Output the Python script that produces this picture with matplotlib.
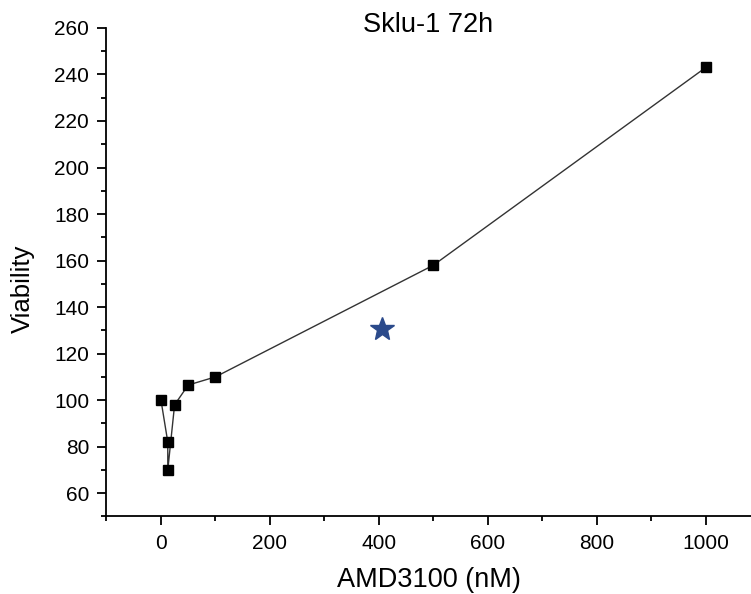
import matplotlib
matplotlib.use("Agg")
import matplotlib.pyplot as plt
from matplotlib.ticker import MultipleLocator

plt.rcParams['font.family'] = ['Liberation Sans', 'DejaVu Sans']

conc = [0, 12.5, 12.5, 25, 50, 100, 500, 1000]
viability = [100, 82, 70, 98, 106.5, 110, 158, 243]
star_x = [405]
star_y = [130.5]

fig = plt.figure(figsize=(7.51, 5.94), dpi=100)
ax = fig.add_axes([0.1418, 0.1305, 0.8582, 0.8225])

ax.plot(conc, viability, color='#333333', lw=1.0, marker='s', markersize=7.5,
        markerfacecolor='black', markeredgecolor='black', zorder=3)
ax.plot(star_x, star_y, marker='*', color='#2b4a8b', markersize=18, ls='none', zorder=4)

ax.set_xlim(-100, 1083)
ax.set_ylim(50, 260)
ax.xaxis.set_major_locator(MultipleLocator(200))
ax.xaxis.set_minor_locator(MultipleLocator(100))
ax.yaxis.set_minor_locator(MultipleLocator(10))
ax.set_yticks(range(60, 261, 20))

for s in ['top', 'right']:
    ax.spines[s].set_visible(False)
for s in ['left', 'bottom']:
    ax.spines[s].set_linewidth(1.3)

ax.tick_params(which='major', direction='out', length=6.5, width=1.3, labelsize=15, pad=6)
ax.tick_params(which='minor', direction='out', length=3.8, width=1.3)

ax.set_xlabel('AMD3100 (nM)', fontsize=19.5)
ax.xaxis.set_label_coords(0.5, -0.104)
ax.set_ylabel('Viability', fontsize=18.5)
ax.yaxis.set_label_coords(-0.111, 0.466)
fig.text(0.57, (594 - 32) / 594, 'Sklu-1 72h', fontsize=19.5, ha='center', va='baseline')

fig.savefig('out.png', dpi=100)
